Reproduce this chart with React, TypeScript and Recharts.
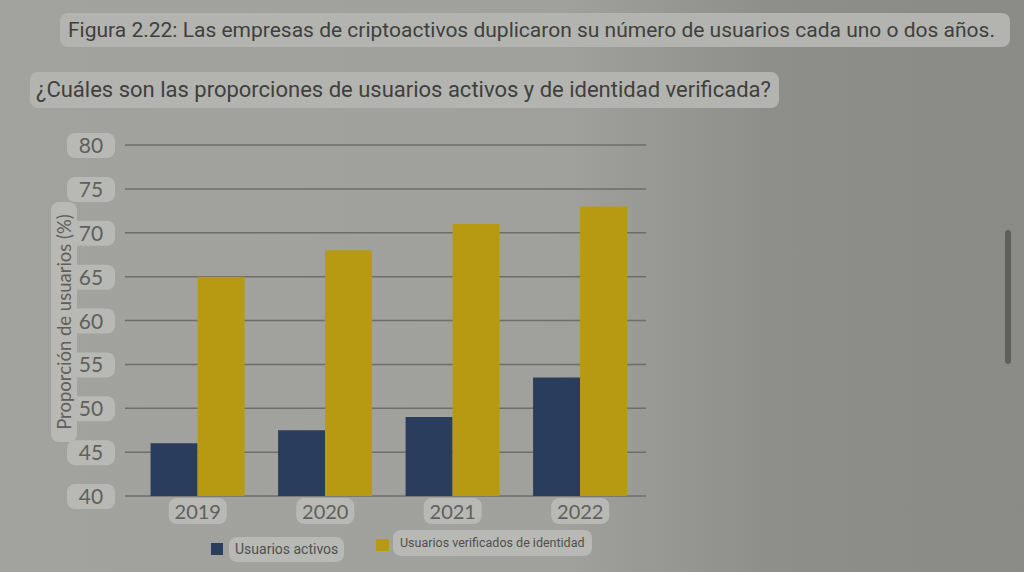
import React from "react";
import { BarChart, Bar, XAxis, YAxis, CartesianGrid } from "recharts";

const years = ["2019", "2020", "2021", "2022"];
const activos = [46, 47.5, 49, 53.5];
const verificados = [65, 68, 71, 73];
const yTicks = [40, 45, 50, 55, 60, 65, 70, 75, 80];

const data = years.map((year, i) => ({
  year,
  activos: activos[i],
  verificados: verificados[i],
}));

const NAVY = "#2b3d5c";
const GOLD = "#b89a12";
const BOX = "#b8b9b4";
const TXT = "#5f605d";

function YTick({ x, y, payload }: any) {
  return (
    <g>
      <rect x={x - 50} y={y - 12} width={48} height={25} rx={8} fill={BOX} />
      <text x={x - 26} y={y + 8} textAnchor="middle" fontSize={21} fill={TXT} fontFamily="Lato">
        {String(payload.value)}
      </text>
    </g>
  );
}

function XTick({ x, y, payload }: any) {
  return (
    <g>
      <rect x={x - 29} y={y - 6} width={58} height={26} rx={8} fill={BOX} />
      <text x={x} y={y + 15} textAnchor="middle" fontSize={20} fill={TXT} fontFamily="Lato">
        {payload.value}
      </text>
    </g>
  );
}

const boxText: React.CSSProperties = {
  position: "absolute",
  background: "#b3b4af",
  borderRadius: 8,
  color: "#3f403e",
  fontFamily: "Roboto",
  whiteSpace: "nowrap",
  boxSizing: "border-box",
};

export default function App() {
  return (
    <div
      style={{
        position: "absolute",
        left: 0,
        top: 0,
        width: 1024,
        height: 572,
        overflow: "hidden",
        background: "linear-gradient(90deg, #a2a39e 0%, #a0a19c 55%, #8e8f8b 75%, #8a8b87 100%)",
      }}
    >
      <div style={{ ...boxText, left: 60, top: 13, height: 34, width: 950, fontSize: 21, lineHeight: "34px", paddingLeft: 8 }}>
        Figura 2.22: Las empresas de criptoactivos duplicaron su número de usuarios cada uno o dos años.
      </div>
      <div style={{ ...boxText, left: 30, top: 72, height: 36, fontSize: 22, lineHeight: "36px", padding: "0 8px 0 6px" }}>
        ¿Cuáles son las proporciones de usuarios activos y de identidad verificada?
      </div>

      <div style={{ position: "absolute", left: 0, top: 0 }}>
        <BarChart
          width={660}
          height={572}
          data={data}
          margin={{ top: 145, right: 14, bottom: 44, left: 0 }}
          barCategoryGap="13%"
          barGap={0}
        >
          <CartesianGrid vertical={false} stroke="#6d6e6a" strokeWidth={1.5} />
          <XAxis
            dataKey="year"
            axisLine={false}
            tickLine={false}
            tick={<XTick />}
            height={32}
            interval={0}
            padding={{ left: 9, right: 2 }}
          />
          <YAxis
            domain={[40, 80]}
            ticks={yTicks}
            axisLine={false}
            tickLine={false}
            tick={<YTick />}
            width={125}
            allowDataOverflow
          />
          <Bar dataKey="activos" fill={NAVY} isAnimationActive={false} />
          <Bar dataKey="verificados" fill={GOLD} isAnimationActive={false} />
        </BarChart>
      </div>

      <div
        style={{
          ...boxText,
          left: 51,
          top: 202,
          width: 26,
          height: 240,
          background: BOX,
          color: TXT,
        }}
      >
        <div
          style={{
            position: "absolute",
            left: 13,
            top: 120,
            transform: "translate(-50%, -50%) rotate(-90deg)",
            fontSize: 18.5,
            fontFamily: "Lato",
          }}
        >
          Proporción de usuarios (%)
        </div>
      </div>

      <div style={{ position: "absolute", left: 211, top: 543, width: 12, height: 12, background: NAVY }} />
      <div style={{ ...boxText, left: 229, top: 537, height: 25, fontSize: 14, lineHeight: "25px", padding: "0 6px", background: BOX, color: "#4f504d" }}>
        Usuarios activos
      </div>
      <div style={{ position: "absolute", left: 376, top: 539, width: 13, height: 12, background: GOLD }} />
      <div style={{ ...boxText, left: 393, top: 530, height: 26, fontSize: 12.5, lineHeight: "26px", padding: "0 7px", background: BOX, color: "#4f504d" }}>
        Usuarios verificados de identidad
      </div>

      <div style={{ position: "absolute", left: 1005, top: 230, width: 6, height: 134, borderRadius: 3, background: "#5e5f5c" }} />
    </div>
  );
}
